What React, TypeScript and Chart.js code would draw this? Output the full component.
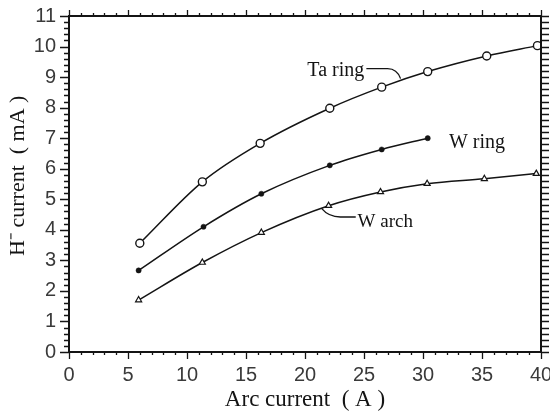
import { useEffect, useRef } from "react";
import { Chart, registerables } from "chart.js";

Chart.register(...registerables);

// Arc current (A) and H- current (mA)
const taRingX = [6.0, 11.3, 16.2, 22.1, 26.5, 30.4, 35.4, 39.7];
const taRingY = [3.56, 5.57, 6.83, 7.98, 8.67, 9.18, 9.69, 10.03];
const wRingX = [5.9, 11.4, 16.3, 22.1, 26.5, 30.4];
const wRingY = [2.67, 4.1, 5.18, 6.11, 6.63, 7.0];
const wArchX = [5.9, 11.3, 16.3, 22.0, 26.4, 30.35, 35.2, 39.6];
const wArchY = [1.7, 2.93, 3.91, 4.79, 5.24, 5.51, 5.67, 5.84];

const xMin = 0;
const xMax = 40;
const yMin = 0;
const yMax = 11;
const xMajorStep = 5;
const xMinorStep = 1;
const yMajorStep = 1;
const yMinorStep = 0.2;

const seriesLabels = ["Ta ring", "W ring", "W arch"];
const xTitle = "Arc current  ( A )";
const yTitle = "\u00A0\u00A0\u00A0H\u207B current  ( mA )";

const INK = "#141414";
const SERIF = "'Liberation Serif', 'Times New Roman', serif";
const SANS = "'Liberation Sans Narrow', 'Liberation Sans', Arial, sans-serif";

const toPts = (xs: number[], ys: number[]) => xs.map((x, i) => ({ x, y: ys[i] }));

const frameTicksPlugin = {
  id: "frameTicks",
  afterDraw(chart: any) {
    const { ctx, chartArea: a, scales } = chart;
    const xs = scales.x;
    const ys = scales.y;
    ctx.save();
    ctx.strokeStyle = INK;
    ctx.lineWidth = 2;
    ctx.strokeRect(a.left, a.top, a.right - a.left, a.bottom - a.top);
    ctx.lineWidth = 1.3;
    ctx.beginPath();
    const nX = Math.round((xMax - xMin) / xMinorStep);
    for (let i = 0; i <= nX; i++) {
      const v = xMin + i * xMinorStep;
      const px = Math.round(xs.getPixelForValue(v)) + 0.5;
      const major = Math.abs(v / xMajorStep - Math.round(v / xMajorStep)) < 1e-6;
      const lb = major ? 7 : 3;
      const lt = major ? 6 : 3;
      ctx.moveTo(px, a.bottom);
      ctx.lineTo(px, a.bottom + lb);
      ctx.moveTo(px, a.top);
      ctx.lineTo(px, a.top - lt);
    }
    const nY = Math.round((yMax - yMin) / yMinorStep);
    for (let i = 0; i <= nY; i++) {
      const v = yMin + i * yMinorStep;
      const py = Math.round(ys.getPixelForValue(v)) + 0.5;
      const major = Math.abs(v / yMajorStep - Math.round(v / yMajorStep)) < 1e-6;
      ctx.moveTo(a.left, py);
      ctx.lineTo(a.left - (major ? 9 : 5), py);
      ctx.moveTo(a.right, py);
      ctx.lineTo(a.right + 8, py);
    }
    ctx.stroke();
    ctx.restore();
  },
};

const annotationPlugin = {
  id: "seriesNotes",
  afterDraw(chart: any) {
    const { ctx, scales } = chart;
    const X = (v: number) => scales.x.getPixelForValue(v);
    const Y = (v: number) => scales.y.getPixelForValue(v);
    ctx.save();
    ctx.fillStyle = INK;
    ctx.strokeStyle = INK;
    ctx.lineWidth = 1.3;
    ctx.textBaseline = "alphabetic";
    ctx.textAlign = "left";
    ctx.font = `20px ${SERIF}`;
    // Ta ring
    ctx.fillText(seriesLabels[0], X(20.2), Y(9.05));
    ctx.beginPath();
    ctx.moveTo(X(25.2), Y(9.28));
    ctx.lineTo(X(27.0), Y(9.28));
    ctx.quadraticCurveTo(X(27.8), Y(9.28), X(28.1), Y(8.95));
    ctx.stroke();
    // W ring
    ctx.fillText(seriesLabels[1], X(32.2), Y(6.68));
    // W arch
    ctx.font = `19px ${SERIF}`;
    ctx.fillText(seriesLabels[2], X(24.45), Y(4.08));
    ctx.beginPath();
    ctx.moveTo(X(24.3), Y(4.42));
    ctx.lineTo(X(23.0), Y(4.42));
    ctx.quadraticCurveTo(X(22.0), Y(4.42), X(21.4), Y(4.7));
    ctx.stroke();
    ctx.restore();
  },
};

export default function App() {
  const ref = useRef<HTMLCanvasElement | null>(null);

  useEffect(() => {
    if (!ref.current) return;
    document.body.style.overflow = "hidden";
    const tickFont = { family: SANS, size: 20 };
    const common = {
      borderColor: INK,
      borderWidth: 1.5,
      cubicInterpolationMode: "monotone",
      showLine: true,
      fill: false,
    };
    const chart = new Chart(ref.current, {
      type: "scatter",
      data: {
        datasets: [
          {
            ...common,
            label: seriesLabels[0],
            data: toPts(taRingX, taRingY),
            pointStyle: "circle",
            pointRadius: 4,
            pointBorderWidth: 1.4,
            pointBackgroundColor: "#ffffff",
            pointBorderColor: INK,
          },
          {
            ...common,
            label: seriesLabels[1],
            data: toPts(wRingX, wRingY),
            pointStyle: "circle",
            pointRadius: 2.6,
            pointBorderWidth: 0.5,
            pointBackgroundColor: INK,
            pointBorderColor: INK,
          },
          {
            ...common,
            label: seriesLabels[2],
            data: toPts(wArchX, wArchY),
            pointStyle: "triangle",
            pointRadius: 3.5,
            pointBorderWidth: 1.2,
            pointBackgroundColor: "#ffffff",
            pointBorderColor: INK,
          },
        ],
      },
      options: {
        animation: false,
        responsive: false,
        devicePixelRatio: 1,
        layout: { padding: { top: 16, right: 9, left: 0, bottom: 0 } },
        plugins: {
          legend: { display: false },
          tooltip: { enabled: false },
        },
        scales: {
          x: {
            type: "linear",
            min: xMin,
            max: xMax,
            grid: { display: false, drawTicks: false },
            border: { display: false },
            ticks: { stepSize: xMajorStep, padding: 11, color: "#3a3a3a", font: tickFont, maxRotation: 0, autoSkip: false },
            title: {
              display: true,
              text: xTitle,
              color: INK,
              font: { family: SERIF, size: 23 },
              padding: { top: 0, bottom: 3 },
            },
            afterFit(s: any) {
              s.height = 65;
              s.paddingLeft = 0;
              s.paddingRight = 0;
            },
          },
          y: {
            type: "linear",
            min: yMin,
            max: yMax,
            grid: { display: false, drawTicks: false },
            border: { display: false },
            ticks: { stepSize: yMajorStep, padding: 13, color: "#3a3a3a", font: tickFont, autoSkip: false },
            title: {
              display: true,
              text: yTitle,
              color: INK,
              font: { family: SERIF, size: 22 },
              padding: { top: 5, bottom: 0 },
            },
            afterFit(s: any) {
              s.width = 69;
              s.paddingTop = 0;
              s.paddingBottom = 0;
            },
          },
        },
      },
      plugins: [frameTicksPlugin, annotationPlugin],
    } as any);
    return () => chart.destroy();
  }, []);

  return (
    <div style={{ position: "fixed", left: 0, top: 0, width: 550, height: 417, overflow: "hidden", background: "#fff" }}>
      <canvas ref={ref} width={550} height={417} style={{ display: "block", width: 550, height: 417 }} />
    </div>
  );
}
